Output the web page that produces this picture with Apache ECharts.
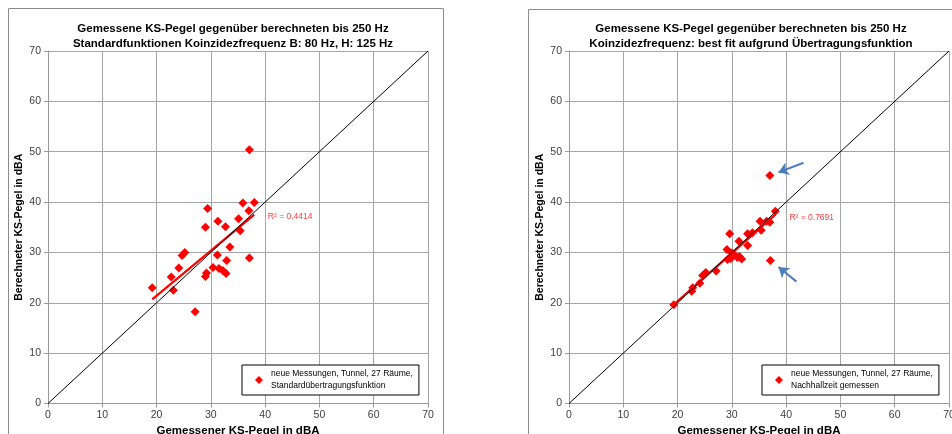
<!DOCTYPE html>
<html>
<head>
<meta charset="utf-8">
<title>KS-Pegel</title>
<script src="https://cdn.jsdelivr.net/npm/echarts@6/dist/echarts.min.js"></script>
<style>
html, body { margin: 0; padding: 0; background: #fff; }
#main { width: 952px; height: 434px; }
</style>
</head>
<body>
<div id="main"></div>
<script>
// links: Standardfunktionen Koinzidenzfrequenz
var leftMeasured   = [37.1, 35.9, 38.0, 37.0, 29.4, 31.3, 32.7, 29.0, 35.1, 35.4, 33.5, 25.2, 24.7, 31.2, 32.9, 37.1, 24.1, 22.7, 23.1, 19.2, 29.2, 29.0, 30.4, 31.5, 32.2, 32.8, 27.1];
var leftCalculated = [50.4, 39.8, 39.9, 38.3, 38.7, 36.2, 35.1, 35.0, 36.7, 34.3, 31.1, 30.0, 29.4, 29.5, 28.4, 28.9, 26.9, 25.1, 22.5, 23.0, 25.9, 25.2, 27.0, 26.8, 26.4, 25.8, 18.2];
// rechts: best fit aufgrund Übertragungsfunktion
var rightMeasured   = [37.0, 38.0, 35.2, 37.0, 35.4, 29.6, 32.9, 33.8, 31.3, 32.9, 29.1, 29.2, 30.4, 31.0, 31.8, 37.1, 27.1, 25.2, 24.6, 24.1, 22.8, 22.6, 19.3, 29.8, 36.4, 31.4, 30.0];
var rightCalculated = [45.3, 38.2, 36.2, 36.0, 34.4, 33.7, 33.7, 33.9, 32.2, 31.4, 30.6, 28.6, 29.6, 29.0, 28.7, 28.4, 26.3, 26.0, 25.4, 23.9, 23.0, 22.3, 19.6, 28.8, 36.2, 29.2, 29.9];

var axisMin = 0, axisMax = 70, axisStep = 10;
var diagonal = [axisMin, axisMax];

var leftR2 = 'R² = 0.4414';
var rightR2 = 'R² = 0.7691';
var leftR2Pos = [40.5, 37.1];
var rightR2Pos = [40.6, 36.9];

// Pfeile rechts: [Anfang, Spitze]
var rightArrows = [
  [[43.2, 47.8], [38.6, 45.9]],
  [[41.9, 24.2], [38.6, 27.1]]
];

var leftTitle = 'Gemessene KS-Pegel gegenüber berechneten bis 250 Hz\nStandardfunktionen Koinzidezfrequenz B: 80 Hz, H: 125 Hz';
var rightTitle = 'Gemessene KS-Pegel gegenüber berechneten bis 250 Hz\nKoinzidezfrequenz: best fit aufgrund Übertragungsfunktion';
var leftLegend = 'neue Messungen, Tunnel, 27 Räume,\nStandardübertragungsfunktion';
var rightLegend = 'neue Messungen, Tunnel, 27 Räume,\nNachhallzeit gemessen';
var xName = 'Gemessener KS-Pegel in dBA';
var yName = 'Berechneter KS-Pegel in dBA';

var font = "'Liberation Sans', sans-serif";

function pairs(xs, ys) {
  return xs.map(function (x, i) { return [x, ys[i]]; });
}

// lineare Regression wie Excel-Trendlinie
function trend(xs, ys) {
  var n = xs.length, mx = 0, my = 0, sxy = 0, sxx = 0;
  for (var i = 0; i < n; i++) { mx += xs[i]; my += ys[i]; }
  mx /= n; my /= n;
  for (var j = 0; j < n; j++) {
    sxy += (xs[j] - mx) * (ys[j] - my);
    sxx += (xs[j] - mx) * (xs[j] - mx);
  }
  var b = sxy / sxx, a = my - b * mx;
  var x0 = Math.min.apply(null, xs), x1 = Math.max.apply(null, xs);
  return [[x0, a + b * x0], [x1, a + b * x1]];
}

function axis(idx, isX) {
  return {
    type: 'value', gridIndex: idx,
    min: axisMin, max: axisMax, interval: axisStep,
    name: isX ? xName : yName,
    nameLocation: 'middle',
    nameGap: isX ? 21 : 23,
    nameMoveOverlap: false,
    nameRotate: isX ? 0 : 90,
    nameTextStyle: { fontFamily: font, fontSize: isX ? 11.5 : 10.5, fontWeight: 'bold', color: '#000' },
    axisLine: { show: true, onZero: false, lineStyle: { color: '#999', width: 1 } },
    axisTick: { show: true, length: 4, lineStyle: { color: '#999' } },
    axisLabel: { fontFamily: font, fontSize: 10.5, color: '#404040', margin: isX ? 6 : 7 },
    splitLine: { show: true, lineStyle: { color: '#a6a6a6', width: 1 } }
  };
}

function seriesFor(idx, xs, ys, name, r2, r2Pos, arrows) {
  var list = [
    {
      name: name, type: 'scatter', xAxisIndex: idx, yAxisIndex: idx,
      data: pairs(xs, ys), symbol: 'diamond', symbolSize: 9,
      itemStyle: { color: '#ff0000', opacity: 1 }, z: 2
    },
    {
      type: 'line', xAxisIndex: idx, yAxisIndex: idx, data: trend(xs, ys),
      showSymbol: false, silent: true, z: 3,
      lineStyle: { color: '#ff0000', width: 2.2 },
      markPoint: {
        symbol: 'circle', symbolSize: 0, silent: true,
        label: { show: true, position: 'right', distance: 0, formatter: r2,
                 fontFamily: font, fontSize: 8.5, color: '#ff3b3b' },
        data: [{ coord: r2Pos }]
      }
    },
    {
      type: 'line', xAxisIndex: idx, yAxisIndex: idx,
      data: [[diagonal[0], diagonal[0]], [diagonal[1], diagonal[1]]],
      showSymbol: false, silent: true, z: 4,
      lineStyle: { color: '#000', width: 1 }
    }
  ];
  if (arrows) {
    list[2].markLine = {
      silent: true, symbol: ['none', 'arrow'], symbolSize: 10,
      label: { show: false },
      lineStyle: { color: '#4a7ebb', width: 2, type: 'solid' },
      itemStyle: { color: '#4a7ebb' },
      data: arrows.map(function (a) { return [{ coord: a[0] }, { coord: a[1] }]; })
    };
  }
  return list;
}

function legendFor(name, left) {
  return {
    data: [name], left: left, top: 365, orient: 'vertical',
    padding: [3, 6, 3, 13], itemWidth: 8, itemHeight: 8,
    borderColor: '#000', borderWidth: 1, borderRadius: 0,
    backgroundColor: '#fff', selectedMode: false,
    textStyle: { fontFamily: font, fontSize: 8.5, lineHeight: 12, color: '#000', padding: [0, 0, 0, 3] }
  };
}

var chart = echarts.init(document.getElementById('main'));
chart.setOption({
  animation: false,
  backgroundColor: '#fff',
  title: [
    { text: leftTitle, left: 228, top: 16, textAlign: 'center',
      textStyle: { fontFamily: font, fontSize: 11.5, fontWeight: 'bold', lineHeight: 15, color: '#000' } },
    { text: rightTitle, left: 746, top: 16, textAlign: 'center',
      textStyle: { fontFamily: font, fontSize: 11.5, fontWeight: 'bold', lineHeight: 15, color: '#000' } }
  ],
  grid: [
    { left: 48, top: 51, width: 380, height: 352.5, outerBoundsMode: 'none' },
    { left: 569, top: 51, width: 380, height: 352.5, outerBoundsMode: 'none' }
  ],
  xAxis: [axis(0, true), axis(1, true)],
  yAxis: [axis(0, false), axis(1, false)],
  legend: [legendFor(leftLegend, 242), legendFor(rightLegend, 762)],
  graphic: [
    { type: 'rect', shape: { x: 8.5, y: 8.5, width: 435, height: 440 }, style: { fill: 'none', stroke: '#8c8c8c', lineWidth: 1 }, silent: true },
    { type: 'rect', shape: { x: 528.5, y: 9.5, width: 440, height: 440 }, style: { fill: 'none', stroke: '#8c8c8c', lineWidth: 1 }, silent: true }
  ],
  series: seriesFor(0, leftMeasured, leftCalculated, leftLegend, leftR2, leftR2Pos, null)
    .concat(seriesFor(1, rightMeasured, rightCalculated, rightLegend, rightR2, rightR2Pos, rightArrows))
});
</script>
</body>
</html>
